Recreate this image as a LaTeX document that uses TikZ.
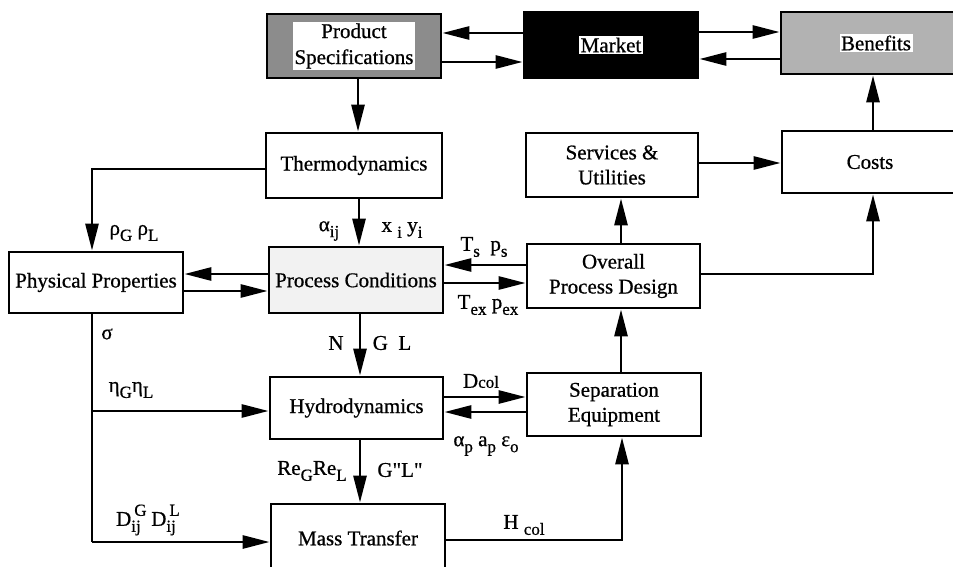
\documentclass[tikz,border=0pt]{standalone}
\usepackage{fontspec}
\setmainfont{Liberation Serif}[FakeBold=0.7]
\newfontfamily\qfont{Liberation Serif}[Ligatures=ResetAll,FakeBold=0.7]
\usetikzlibrary{arrows.meta}
\newcommand{\sbs}[1]{\raisebox{-6pt}{\fontsize{17}{17}\selectfont #1}}
\newcommand{\sps}[1]{\raisebox{10pt}{\fontsize{17}{17}\selectfont #1}}
\newcommand{\sbsp}[2]{\makebox[0pt][l]{\hspace{3pt}\sps{#2}}\sbs{#1}}
\begin{document}
\begin{tikzpicture}[x=1pt,y=-1pt,
  box/.style={draw, line width=2.8pt, inner sep=0pt, align=center, font=\fontsize{21}{25}\selectfont},
  arr/.style={line width=2.8pt, -{Triangle[length=27pt,width=13pt]}},
  ln/.style={line width=2.8pt},
  lbl/.style={inner sep=0pt, font=\fontsize{21}{25}\selectfont},
  bg/.style={fill=white, inner sep=1.5pt, align=center, font=\fontsize{21}{26}\selectfont}
]
\useasboundingbox (0,0) rectangle (953,567);
\clip (0,0) rectangle (953,567);

% boxes
\node[box, fill=black!45, minimum width=174pt, minimum height=64pt] (ps) at (354,46) {};
\node[bg] (ps-t) at (ps) {Product\\Specifications};
\node[box, fill=black, minimum width=174pt, minimum height=66pt] (market) at (611,45) {};
\node[bg] (market-t) at (market) {Market};
\node[box, fill=black!30, minimum width=190pt, minimum height=62pt] (benefits) at (876,43) {};
\node[bg] (benefits-t) at (benefits) {Benefits};
\node[box, minimum width=176pt, minimum height=62pt] (costs) at (870,162) {Costs};
\node[box, minimum width=176pt, minimum height=65pt] (thermo) at (354,165.5) {Thermodynamics};
\node[box, minimum width=172pt, minimum height=64pt] (services) at (612,165) {Services \&\\Utilities};
\node[box, minimum width=174pt, minimum height=61pt] (pp) at (96,282.5) {Physical Properties};
\node[box, fill=black!5, minimum width=174pt, minimum height=66pt] (pc) at (356,280) {Process Conditions};
\node[box, minimum width=173pt, minimum height=64pt] (opd) at (613.5,276) {Overall\\Process Design};
\node[box, minimum width=173pt, minimum height=62pt] (hydro) at (356.5,408) {Hydrodynamics};
\node[box, minimum width=174pt, minimum height=63pt] (sep) at (614,404.5) {Separation\\Equipment};
\node[box, minimum width=174pt, minimum height=68pt] (mt) at (358,538) {Mass Transfer};

% connectors
\draw[arr] (market.west |- 0,33) -- (ps.east |- 0,33);
\draw[arr] (ps.east |- 0,62) -- (market.west |- 0,62);
\draw[arr] (market.east |- 0,32) -- (benefits.west |- 0,32);
\draw[arr] (benefits.west |- 0,59) -- (market.east |- 0,59);
\draw[arr] (ps.south -| 358,0) -- (thermo.north -| 358,0);
\draw[arr] (costs.north -| 873,0) -- (benefits.south -| 873,0);
\draw[arr] (services.east |- 0,163) -- (costs.west |- 0,163);
\draw[arr] (opd.north -| 621,0) -- (services.south -| 621,0);
\draw[arr] (opd.east |- 0,274) -| (costs.south -| 873,0);
\draw[arr] (thermo.west |- 0,169) -| (pp.north -| 92,0);
\draw[arr] (thermo.south -| 359,0) -- (pc.north -| 359,0);
\draw[arr] (pc.west |- 0,274) -- (pp.east |- 0,274);
\draw[arr] (pp.east |- 0,291) -- (pc.west |- 0,291);
\draw[arr] (opd.west |- 0,265) -- (pc.east |- 0,265);
\draw[arr] (pc.east |- 0,283) -- (opd.west |- 0,283);
\draw[arr] (pc.south -| 360,0) -- (hydro.north -| 360,0);
\coordinate (j1) at (92,411);
\coordinate (j2) at (92,542);
\draw[ln] (pp.south -| 92,0) -- (j2);
\draw[arr] (j1) -- (hydro.west |- j1);
\draw[arr] (j2) -- (mt.west |- j2);
\draw[arr] (hydro.east |- 0,397) -- (sep.west |- 0,397);
\draw[arr] (sep.west |- 0,412) -- (hydro.east |- 0,412);
\draw[arr] (hydro.south -| 360,0) -- (mt.north -| 360,0);
\draw[arr] (mt.east |- 0,540) -| (sep.south -| 622,0);
\draw[arr] (sep.north -| 621,0) -- (opd.south -| 621,0);

% labels
\node[lbl] (l-rho) at (134,233) {ρ\sbs{G} ρ\sbs{L}};
\node[lbl] (l-alpha) at (329,231) {α\sbs{ij}};
\node[lbl] (l-xy) at (402,230) {x \sbs{i} y\sbs{i}};
\node[lbl] (l-ts) at (484,247) {T\sbs{s}\ \ p\sbs{s}};
\node[lbl] (l-tex) at (488,305) {T\sbs{ex} p\sbs{ex}};
\node[lbl] (l-sigma) at (107,334) {σ};
\node[lbl] (l-n) at (336,343) {N};
\node[lbl] (l-gl) at (392,343) {G\ \ L};
\node[lbl] (l-eta) at (131,390) {η\sbs{G}η\sbs{L}};
\node[lbl] (l-re) at (312,471) {Re\sbs{G}Re\sbs{L}};
\node[lbl] (l-gl2) at (400,470) {{\qfont G"L"}};
\node[lbl] (l-d) at (146,520) {D\sbsp{ij}{G}\ \ D\sbsp{ij}{L}};
\node[lbl] (l-dcol) at (481,381) {D{\fontsize{17}{17}\selectfont col}};
\node[lbl] (l-alp) at (486,446) {α\sbs{p} a\sbs{p} ε\sbs{o}};
\node[lbl] (l-hcol) at (524,525) {H \sbs{col}};
\end{tikzpicture}
\end{document}
